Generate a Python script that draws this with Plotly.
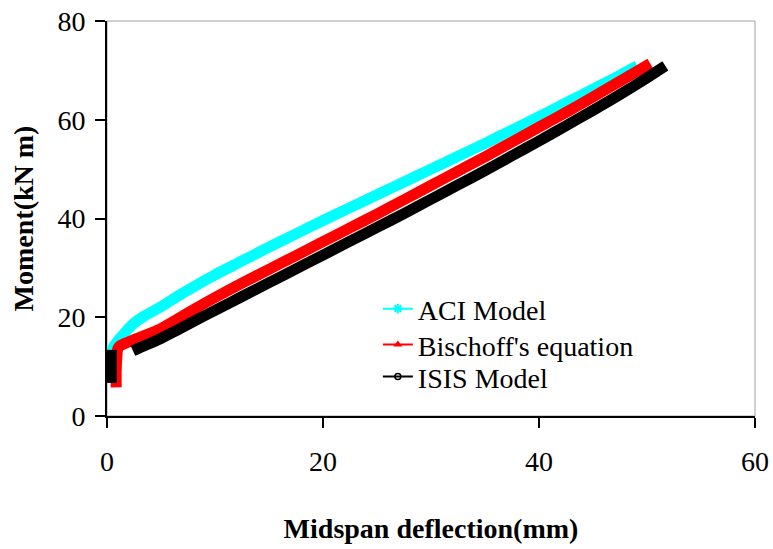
import plotly.graph_objects as go

# ---- data ----
aci_x = [0.35, 0.4, 0.55, 1.0, 1.5, 2.4, 3.5, 4.9, 6.5, 8.6, 10, 12.5, 15, 17.5, 20, 22.5, 25, 27.5,
         30, 32.5, 35, 37.5, 40, 42.5, 45, 47.5, 49.1]
aci_y = [7.0, 10.5, 13.8, 15.2, 16.5, 18.6, 20.3, 22.0, 24.2, 26.9, 28.6, 31.4, 34.2, 36.9, 39.6,
         42.2, 44.8, 47.4, 50.0, 52.6, 55.2, 57.9, 60.6, 63.4, 66.2, 69.0, 70.9]

bis_x = [0.85, 0.85, 0.9, 1.0, 1.2, 2.0, 3.0, 4.9, 6.5, 8.6, 10, 12.5, 15, 17.5, 20, 22.5, 25, 27.5,
         30, 32.5, 35, 37.5, 40, 42.5, 45, 47.5, 50.3]
bis_y = [5.8, 9.0, 11.5, 13.6, 14.2, 15.0, 15.9, 17.6, 19.6, 22.3, 24.0, 26.9, 29.7, 32.5, 35.3,
         38.1, 40.9, 43.8, 46.7, 49.6, 52.5, 55.5, 58.5, 61.5, 64.6, 67.8, 71.4]

isis_x = [0.4, 0.4, 0.4, None, 2.4, 3.0, 4.9, 6.5, 8.6, 10, 12.5, 15, 17.5, 20, 22.5, 25, 27.5,
          30, 32.5, 35, 37.5, 40, 42.5, 45, 47.5, 50, 51.7]
isis_y = [6.7, 10.0, 13.4, None, 13.2, 13.8, 15.6, 17.4, 19.8, 21.4, 24.2, 27.0, 29.8, 32.6, 35.4,
          38.2, 41.0, 43.9, 46.8, 49.7, 52.7, 55.7, 58.8, 61.9, 65.1, 68.5, 70.9]

names = ["ACI Model", "Bischoff's equation", "ISIS Model"]
colors = ["#00FFFF", "#FF0000", "#000000"]
symbols = ["asterisk", "triangle-up", "circle-open"]

x_ticks = [0, 20, 40, 60]
y_ticks = [0, 20, 40, 60, 80]

FONT = "Liberation Serif, Times New Roman, serif"

fig = go.Figure()

series = [(aci_x, aci_y), (bis_x, bis_y), (isis_x, isis_y)]
for (xs, ys), c in zip(series, colors):
    fig.add_trace(go.Scatter(x=xs, y=ys, mode="lines", showlegend=False,
                             line=dict(color=c, width=11, shape="spline", smoothing=0.6),
                             connectgaps=False, hoverinfo="skip"))

# legend entries (thin line with marker), each in its own legend box
legend_ids = ["legend", "legend2", "legend3"]
for n, c, s, lg in zip(names, colors, symbols, legend_ids):
    mk = dict(symbol=s, color=c, size=8)
    if s == "asterisk":
        mk["line"] = dict(color=c, width=2)
    elif s == "circle-open":
        mk["line"] = dict(color=c, width=1.5)
        mk["size"] = 6
    fig.add_trace(go.Scatter(x=[None], y=[None], mode="lines+markers", name=n,
                             line=dict(color=c, width=2), marker=mk, legend=lg))

leg_common = dict(x=0.418, xanchor="left", yanchor="middle",
                  bgcolor="rgba(0,0,0,0)", font=dict(size=28, family=FONT))

fig.update_layout(
    width=773, height=549,
    margin=dict(l=107, r=18, t=21, b=133),
    paper_bgcolor="white", plot_bgcolor="white",
    font=dict(family=FONT, size=28, color="black"),
    legend=dict(y=0.271, **leg_common),
    legend2=dict(y=0.180, **leg_common),
    legend3=dict(y=0.099, **leg_common),
    shapes=[dict(type="rect", xref="paper", yref="paper", x0=0, y0=0, x1=1, y1=1,
                 line=dict(color="#A0A0A0", width=1), layer="below")],
)

fig.update_xaxes(range=[0, 60], tickvals=x_ticks, showgrid=False, zeroline=False,
                 showline=True, linecolor="black", linewidth=2, automargin=False,
                 ticks="outside", ticklen=10, tickwidth=2, tickcolor="black",
                 ticklabelstandoff=9,
                 title=dict(text="<b>Midspan deflection(mm)</b>", standoff=43,
                            font=dict(size=28, family=FONT)))
fig.update_yaxes(range=[0, 80], tickvals=y_ticks, showgrid=False, zeroline=False,
                 showline=True, linecolor="black", linewidth=2, automargin=False,
                 ticks="outside", ticklen=10, tickwidth=2, tickcolor="black",
                 ticklabelstandoff=4,
                 title=dict(text="<b>Moment(kN m)</b>", standoff=16,
                            font=dict(size=28, family=FONT)))

fig.write_html("out.html")
